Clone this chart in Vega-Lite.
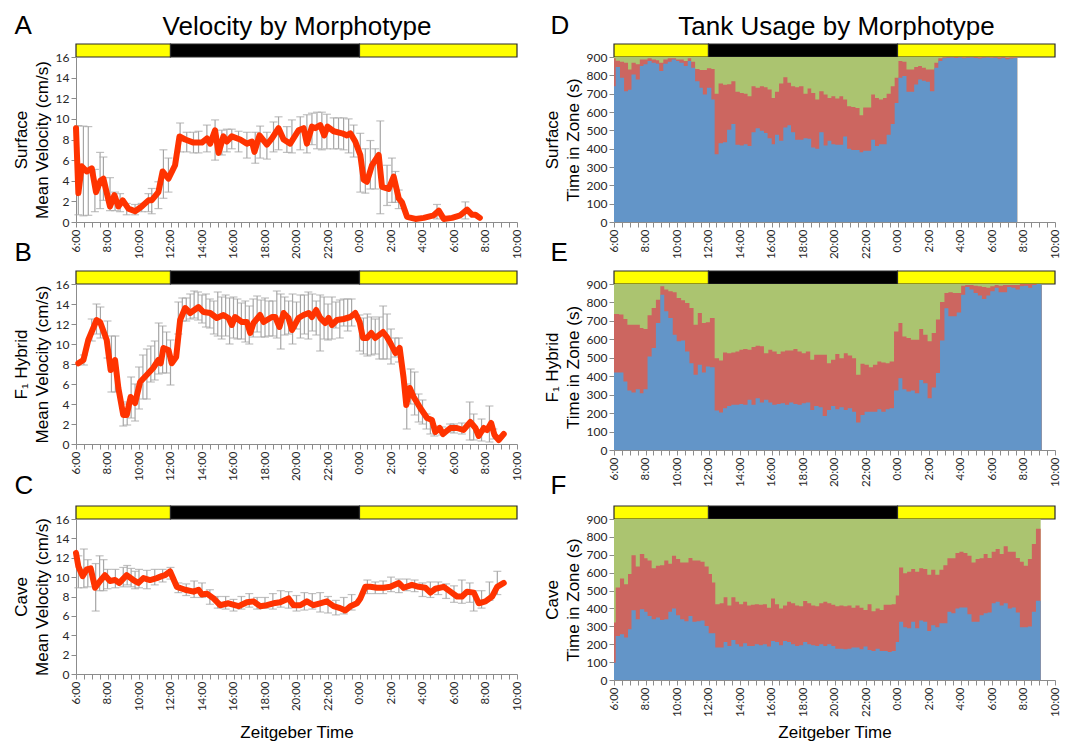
{
"$schema": "https://vega.github.io/schema/vega-lite/v6.json",
"padding": {"left": 12, "top": 12, "right": 5, "bottom": 5},
"background": "white",
"datasets": {
"ld": [{"s":6,"e":12,"p":"light"},{"s":12,"e":24,"p":"dark"},{"s":24,"e":34,"p":"light"}],
"vA": [{"t":6.0,"v":9.1},{"t":6.15,"v":2.8},{"t":6.36,"v":5.4},{"t":6.68,"v":4.9},{"t":7.0,"v":5.2},{"t":7.27,"v":2.9},{"t":7.55,"v":4.0},{"t":7.74,"v":4.2},{"t":8.16,"v":1.5},{"t":8.44,"v":2.6},{"t":8.69,"v":1.5},{"t":8.97,"v":2.1},{"t":9.33,"v":1.3},{"t":9.75,"v":1.05},{"t":10.17,"v":1.5},{"t":10.6,"v":2.1},{"t":10.8,"v":2.1},{"t":11.23,"v":2.9},{"t":11.5,"v":4.9},{"t":11.87,"v":4.2},{"t":12.29,"v":5.5},{"t":12.57,"v":8.3},{"t":12.93,"v":8.0},{"t":13.46,"v":7.7},{"t":13.99,"v":7.7},{"t":14.31,"v":8.1},{"t":14.52,"v":7.6},{"t":14.83,"v":8.9},{"t":15.05,"v":6.7},{"t":15.36,"v":8.3},{"t":15.58,"v":7.8},{"t":15.89,"v":8.3},{"t":16.42,"v":8.0},{"t":16.85,"v":7.6},{"t":17.17,"v":7.8},{"t":17.33,"v":6.8},{"t":17.65,"v":8.4},{"t":18.12,"v":7.5},{"t":18.44,"v":8.1},{"t":18.86,"v":9.1},{"t":19.18,"v":8.0},{"t":19.6,"v":7.6},{"t":20.13,"v":8.9},{"t":20.45,"v":9.1},{"t":20.66,"v":7.6},{"t":20.98,"v":9.25},{"t":21.19,"v":9.1},{"t":21.51,"v":9.4},{"t":21.76,"v":8.4},{"t":21.97,"v":9.25},{"t":22.36,"v":8.8},{"t":22.89,"v":8.6},{"t":23.2,"v":8.4},{"t":23.42,"v":8.6},{"t":23.73,"v":7.8},{"t":24.05,"v":6.5},{"t":24.26,"v":4.1},{"t":24.47,"v":3.9},{"t":24.79,"v":5.5},{"t":25.22,"v":6.5},{"t":25.43,"v":3.4},{"t":25.85,"v":3.2},{"t":26.17,"v":4.4},{"t":26.49,"v":2.3},{"t":26.7,"v":1.9},{"t":27.02,"v":0.5},{"t":27.55,"v":0.3},{"t":28.08,"v":0.4},{"t":28.71,"v":0.65},{"t":29.03,"v":1.1},{"t":29.35,"v":0.3},{"t":29.88,"v":0.4},{"t":30.4,"v":0.65},{"t":30.83,"v":1.2},{"t":31.15,"v":0.7},{"t":31.36,"v":0.7},{"t":31.64,"v":0.4}],
"eA": [{"t":6.15,"lo":0.7,"hi":9.35},{"t":6.47,"lo":0.6,"hi":9.3},{"t":6.78,"lo":0.65,"hi":9.25},{"t":7.2,"lo":1.0,"hi":5.1},{"t":7.53,"lo":1.3,"hi":6.75},{"t":7.74,"lo":2.1,"hi":6.3},{"t":8.16,"lo":1.1,"hi":4.3},{"t":8.48,"lo":1.1,"hi":2.9},{"t":8.8,"lo":1.0,"hi":2.75},{"t":9.22,"lo":0.7,"hi":1.8},{"t":9.75,"lo":0.7,"hi":1.7},{"t":10.17,"lo":1.0,"hi":1.8},{"t":10.6,"lo":1.0,"hi":2.75},{"t":10.81,"lo":0.8,"hi":3.25},{"t":11.23,"lo":1.3,"hi":3.9},{"t":11.55,"lo":2.3,"hi":7.0},{"t":11.87,"lo":2.9,"hi":6.2},{"t":12.61,"lo":6.8,"hi":9.6},{"t":13.03,"lo":6.8,"hi":8.7},{"t":13.46,"lo":6.7,"hi":8.7},{"t":13.78,"lo":6.7,"hi":8.8},{"t":14.31,"lo":6.8,"hi":9.4},{"t":14.83,"lo":6.0,"hi":9.9},{"t":15.26,"lo":6.5,"hi":8.9},{"t":15.58,"lo":6.8,"hi":9.0},{"t":15.89,"lo":7.1,"hi":9.0},{"t":16.32,"lo":6.8,"hi":8.8},{"t":16.85,"lo":6.2,"hi":8.7},{"t":17.38,"lo":5.7,"hi":8.7},{"t":17.69,"lo":6.2,"hi":9.3},{"t":18.12,"lo":6.1,"hi":8.7},{"t":18.54,"lo":6.8,"hi":9.7},{"t":18.86,"lo":7.0,"hi":10.2},{"t":19.39,"lo":6.75,"hi":9.25},{"t":19.71,"lo":6.7,"hi":9.9},{"t":20.24,"lo":7.0,"hi":10.2},{"t":20.66,"lo":6.7,"hi":10.4},{"t":20.98,"lo":7.5,"hi":10.55},{"t":21.3,"lo":7.1,"hi":10.65},{"t":21.61,"lo":7.0,"hi":10.65},{"t":21.93,"lo":7.1,"hi":10.45},{"t":22.36,"lo":7.1,"hi":10.1},{"t":22.67,"lo":7.1,"hi":10.1},{"t":22.99,"lo":7.0,"hi":10.1},{"t":23.31,"lo":6.7,"hi":10.0},{"t":23.63,"lo":6.3,"hi":9.4},{"t":24.05,"lo":2.9,"hi":8.6},{"t":24.37,"lo":2.8,"hi":7.1},{"t":24.69,"lo":3.2,"hi":7.9},{"t":25.0,"lo":3.2,"hi":7.1},{"t":25.32,"lo":0.8,"hi":9.8},{"t":25.75,"lo":1.6,"hi":5.5},{"t":26.06,"lo":1.9,"hi":6.2},{"t":26.28,"lo":1.9,"hi":4.9},{"t":26.49,"lo":1.3,"hi":3.1},{"t":28.92,"lo":0.3,"hi":1.7},{"t":30.72,"lo":0.3,"hi":1.95}],
"vB": [{"t":6.15,"v":8.07},{"t":6.47,"v":8.4},{"t":6.78,"v":10.4},{"t":7.31,"v":12.4},{"t":7.53,"v":12.2},{"t":7.95,"v":10.4},{"t":8.2,"v":7.4},{"t":8.48,"v":8.4},{"t":8.69,"v":5.6},{"t":9.0,"v":2.9},{"t":9.22,"v":2.9},{"t":9.47,"v":4.7},{"t":9.75,"v":4.1},{"t":10.07,"v":6.2},{"t":10.49,"v":6.9},{"t":10.9,"v":7.6},{"t":11.23,"v":8.4},{"t":11.38,"v":8.07},{"t":11.55,"v":9.6},{"t":11.87,"v":9.4},{"t":12.08,"v":8.07},{"t":12.36,"v":8.7},{"t":12.61,"v":12.4},{"t":12.93,"v":13.6},{"t":13.25,"v":13.1},{"t":13.78,"v":13.7},{"t":14.09,"v":13.2},{"t":14.52,"v":13.1},{"t":14.94,"v":12.6},{"t":15.36,"v":12.9},{"t":15.68,"v":12.6},{"t":15.89,"v":11.9},{"t":16.1,"v":12.7},{"t":16.53,"v":12.2},{"t":16.85,"v":12.2},{"t":17.06,"v":11.1},{"t":17.27,"v":12.1},{"t":17.69,"v":12.9},{"t":17.91,"v":12.2},{"t":18.44,"v":12.7},{"t":18.65,"v":12.7},{"t":18.92,"v":11.7},{"t":19.18,"v":13.1},{"t":19.49,"v":12.6},{"t":19.71,"v":11.4},{"t":20.13,"v":12.6},{"t":20.45,"v":12.9},{"t":20.77,"v":13.1},{"t":20.98,"v":12.7},{"t":21.25,"v":13.4},{"t":21.51,"v":12.6},{"t":21.83,"v":12.1},{"t":22.04,"v":12.6},{"t":22.25,"v":11.9},{"t":22.57,"v":12.4},{"t":22.99,"v":12.5},{"t":23.42,"v":12.7},{"t":23.73,"v":13.1},{"t":24.01,"v":12.2},{"t":24.22,"v":10.6},{"t":24.47,"v":10.6},{"t":24.75,"v":11.1},{"t":25.0,"v":10.6},{"t":25.49,"v":11.2},{"t":25.74,"v":10.7},{"t":25.96,"v":10.1},{"t":26.28,"v":9.1},{"t":26.55,"v":9.6},{"t":26.8,"v":6.6},{"t":26.97,"v":3.9},{"t":27.19,"v":5.6},{"t":27.44,"v":4.7},{"t":27.86,"v":3.6},{"t":28.29,"v":2.6},{"t":28.6,"v":2.4},{"t":28.81,"v":1.2},{"t":29.09,"v":1.6},{"t":29.3,"v":1.0},{"t":29.77,"v":1.6},{"t":30.19,"v":1.6},{"t":30.6,"v":1.4},{"t":31.04,"v":2.2},{"t":31.36,"v":1.6},{"t":31.57,"v":0.8},{"t":31.89,"v":1.6},{"t":32.1,"v":1.4},{"t":32.36,"v":2.1},{"t":32.57,"v":0.9},{"t":32.84,"v":0.4},{"t":33.16,"v":1.0}],
"eB": [{"t":6.5,"lo":7.9,"hi":8.9},{"t":7.0,"lo":10.3,"hi":12.5},{"t":7.3,"lo":11.0,"hi":14.0},{"t":7.55,"lo":10.6,"hi":13.7},{"t":8.0,"lo":8.6,"hi":12.3},{"t":8.25,"lo":5.2,"hi":10.8},{"t":8.5,"lo":5.2,"hi":10.8},{"t":9.0,"lo":1.8,"hi":4.0},{"t":9.25,"lo":1.9,"hi":4.2},{"t":9.5,"lo":2.6,"hi":6.7},{"t":9.75,"lo":2.3,"hi":6.0},{"t":10.0,"lo":3.5,"hi":7.7},{"t":10.25,"lo":4.5,"hi":8.9},{"t":10.5,"lo":4.5,"hi":9.5},{"t":10.75,"lo":6.2,"hi":9.8},{"t":11.0,"lo":6.4,"hi":10.3},{"t":11.25,"lo":7.0,"hi":12.1},{"t":11.5,"lo":7.1,"hi":11.8},{"t":11.75,"lo":7.1,"hi":11.2},{"t":12.0,"lo":5.9,"hi":10.4},{"t":12.5,"lo":11.0,"hi":14.2},{"t":12.75,"lo":12.3,"hi":14.6},{"t":13.0,"lo":12.3,"hi":14.6},{"t":13.25,"lo":12.5,"hi":15.0},{"t":13.5,"lo":12.6,"hi":15.3},{"t":13.75,"lo":12.4,"hi":15.2},{"t":14.0,"lo":12.1,"hi":14.9},{"t":14.25,"lo":11.7,"hi":15.0},{"t":14.5,"lo":11.6,"hi":14.5},{"t":14.75,"lo":11.0,"hi":14.3},{"t":15.0,"lo":10.8,"hi":15.2},{"t":15.25,"lo":10.5,"hi":14.7},{"t":15.5,"lo":10.8,"hi":14.9},{"t":15.75,"lo":10.0,"hi":14.6},{"t":16.0,"lo":10.6,"hi":14.7},{"t":16.25,"lo":10.5,"hi":14.5},{"t":16.5,"lo":10.5,"hi":14.1},{"t":16.75,"lo":10.2,"hi":14.3},{"t":17.0,"lo":10.0,"hi":13.8},{"t":17.25,"lo":10.7,"hi":14.5},{"t":17.5,"lo":11.2,"hi":14.8},{"t":17.75,"lo":10.7,"hi":14.4},{"t":18.0,"lo":10.7,"hi":14.6},{"t":18.25,"lo":10.8,"hi":14.3},{"t":18.5,"lo":10.8,"hi":14.3},{"t":18.75,"lo":10.6,"hi":15.3},{"t":19.0,"lo":9.5,"hi":15.0},{"t":19.25,"lo":10.9,"hi":14.7},{"t":19.5,"lo":11.0,"hi":14.3},{"t":19.75,"lo":10.0,"hi":15.0},{"t":20.0,"lo":11.5,"hi":14.2},{"t":20.25,"lo":10.6,"hi":14.9},{"t":20.5,"lo":11.0,"hi":14.9},{"t":20.75,"lo":10.5,"hi":15.2},{"t":21.0,"lo":11.3,"hi":15.0},{"t":21.25,"lo":10.9,"hi":14.3},{"t":21.5,"lo":9.3,"hi":14.9},{"t":21.75,"lo":10.5,"hi":14.7},{"t":22.0,"lo":10.4,"hi":14.0},{"t":22.25,"lo":10.5,"hi":14.7},{"t":22.5,"lo":11.6,"hi":14.2},{"t":22.75,"lo":10.6,"hi":14.4},{"t":23.0,"lo":11.8,"hi":14.5},{"t":23.25,"lo":11.3,"hi":14.5},{"t":23.5,"lo":11.8,"hi":14.5},{"t":24.0,"lo":9.3,"hi":12.9},{"t":24.25,"lo":9.0,"hi":12.6},{"t":24.5,"lo":8.8,"hi":13.0},{"t":24.75,"lo":8.9,"hi":12.7},{"t":25.0,"lo":9.0,"hi":12.5},{"t":25.25,"lo":8.5,"hi":12.7},{"t":25.5,"lo":8.5,"hi":13.8},{"t":25.75,"lo":8.5,"hi":13.0},{"t":26.0,"lo":8.0,"hi":11.5},{"t":26.25,"lo":8.7,"hi":10.6},{"t":26.5,"lo":8.2,"hi":10.6},{"t":27.0,"lo":1.5,"hi":6.0},{"t":27.25,"lo":4.0,"hi":7.5},{"t":27.5,"lo":2.9,"hi":7.2},{"t":27.75,"lo":2.2,"hi":5.0},{"t":28.0,"lo":2.0,"hi":4.4},{"t":28.25,"lo":1.5,"hi":3.0},{"t":28.5,"lo":1.0,"hi":2.4},{"t":28.75,"lo":0.8,"hi":1.8},{"t":29.25,"lo":0.9,"hi":1.7},{"t":29.75,"lo":1.2,"hi":2.0},{"t":30.0,"lo":1.1,"hi":2.0},{"t":30.5,"lo":1.0,"hi":2.1},{"t":31.0,"lo":0.4,"hi":4.2},{"t":31.25,"lo":0.4,"hi":3.0},{"t":31.75,"lo":0.3,"hi":2.5},{"t":32.25,"lo":0.2,"hi":3.8},{"t":32.5,"lo":0.5,"hi":1.5}],
"vC": [{"t":6.0,"v":12.5},{"t":6.15,"v":11.1},{"t":6.42,"v":10.1},{"t":6.68,"v":10.8},{"t":6.93,"v":10.9},{"t":7.21,"v":8.9},{"t":7.53,"v":9.6},{"t":7.84,"v":10.2},{"t":8.16,"v":9.6},{"t":8.48,"v":9.7},{"t":8.75,"v":9.4},{"t":9.22,"v":10.2},{"t":9.64,"v":9.7},{"t":9.96,"v":9.4},{"t":10.28,"v":9.9},{"t":10.7,"v":9.7},{"t":11.13,"v":9.9},{"t":11.44,"v":10.1},{"t":11.66,"v":10.2},{"t":11.97,"v":10.6},{"t":12.4,"v":9.0},{"t":12.93,"v":8.7},{"t":13.46,"v":8.5},{"t":13.78,"v":8.7},{"t":13.99,"v":8.2},{"t":14.31,"v":8.3},{"t":14.73,"v":7.8},{"t":15.15,"v":7.1},{"t":15.68,"v":7.3},{"t":16.32,"v":7.0},{"t":16.85,"v":7.4},{"t":17.27,"v":7.5},{"t":17.69,"v":7.0},{"t":18.12,"v":7.1},{"t":18.54,"v":7.3},{"t":18.96,"v":7.4},{"t":19.5,"v":7.8},{"t":19.81,"v":7.1},{"t":20.24,"v":7.1},{"t":20.66,"v":7.5},{"t":21.08,"v":7.1},{"t":21.5,"v":7.3},{"t":21.93,"v":7.5},{"t":22.35,"v":7.0},{"t":22.77,"v":6.8},{"t":23.1,"v":6.55},{"t":23.42,"v":7.0},{"t":23.84,"v":7.3},{"t":24.05,"v":7.8},{"t":24.37,"v":9.0},{"t":24.69,"v":9.0},{"t":25.11,"v":8.9},{"t":25.53,"v":8.9},{"t":25.96,"v":9.0},{"t":26.49,"v":9.4},{"t":26.8,"v":8.9},{"t":27.33,"v":9.2},{"t":27.76,"v":9.0},{"t":28.18,"v":8.9},{"t":28.5,"v":8.4},{"t":28.82,"v":8.8},{"t":29.35,"v":9.0},{"t":29.77,"v":8.5},{"t":30.19,"v":8.0},{"t":30.51,"v":8.0},{"t":30.83,"v":8.5},{"t":31.26,"v":8.4},{"t":31.57,"v":7.3},{"t":32.0,"v":7.5},{"t":32.42,"v":8.0},{"t":32.74,"v":9.0},{"t":33.16,"v":9.4}],
"eC": [{"t":6.15,"lo":8.9,"hi":12.2},{"t":6.5,"lo":8.9,"hi":12.9},{"t":6.75,"lo":9.0,"hi":11.8},{"t":7.25,"lo":6.5,"hi":11.4},{"t":7.5,"lo":8.6,"hi":12.2},{"t":7.75,"lo":8.6,"hi":11.8},{"t":8.0,"lo":8.8,"hi":10.8},{"t":8.5,"lo":8.9,"hi":10.8},{"t":9.0,"lo":9.0,"hi":11.0},{"t":9.25,"lo":9.2,"hi":11.2},{"t":9.5,"lo":9.0,"hi":10.9},{"t":9.75,"lo":8.8,"hi":10.6},{"t":10.0,"lo":8.9,"hi":10.8},{"t":10.5,"lo":8.8,"hi":10.7},{"t":11.0,"lo":9.2,"hi":10.8},{"t":11.5,"lo":9.5,"hi":10.8},{"t":12.0,"lo":9.8,"hi":11.0},{"t":12.5,"lo":8.4,"hi":9.4},{"t":13.0,"lo":8.1,"hi":9.3},{"t":13.5,"lo":7.9,"hi":9.6},{"t":14.0,"lo":7.9,"hi":9.4},{"t":14.5,"lo":7.2,"hi":8.7},{"t":15.0,"lo":6.8,"hi":8.0},{"t":15.5,"lo":6.7,"hi":8.0},{"t":16.0,"lo":6.5,"hi":7.7},{"t":16.5,"lo":6.7,"hi":8.0},{"t":17.0,"lo":6.9,"hi":8.3},{"t":17.5,"lo":6.7,"hi":7.9},{"t":18.0,"lo":6.8,"hi":7.9},{"t":18.5,"lo":6.7,"hi":8.3},{"t":19.0,"lo":6.9,"hi":8.6},{"t":19.5,"lo":6.8,"hi":8.5},{"t":20.0,"lo":6.5,"hi":8.1},{"t":20.5,"lo":6.6,"hi":8.4},{"t":21.0,"lo":6.7,"hi":8.3},{"t":21.5,"lo":6.4,"hi":8.4},{"t":22.0,"lo":6.3,"hi":8.0},{"t":22.5,"lo":6.1,"hi":7.6},{"t":23.0,"lo":6.2,"hi":7.9},{"t":23.5,"lo":6.6,"hi":8.2},{"t":24.5,"lo":8.3,"hi":9.7},{"t":25.0,"lo":8.3,"hi":9.5},{"t":25.5,"lo":8.3,"hi":9.6},{"t":26.0,"lo":8.5,"hi":10.0},{"t":26.5,"lo":8.4,"hi":9.8},{"t":27.0,"lo":8.6,"hi":9.8},{"t":27.5,"lo":8.5,"hi":9.7},{"t":28.0,"lo":8.0,"hi":9.4},{"t":28.5,"lo":7.9,"hi":9.5},{"t":29.0,"lo":8.2,"hi":9.5},{"t":29.5,"lo":7.8,"hi":9.3},{"t":30.0,"lo":7.4,"hi":9.1},{"t":30.5,"lo":7.3,"hi":9.7},{"t":31.0,"lo":7.4,"hi":9.4},{"t":31.25,"lo":6.5,"hi":8.6},{"t":31.75,"lo":6.8,"hi":8.6},{"t":32.25,"lo":7.6,"hi":9.5},{"t":32.75,"lo":8.2,"hi":10.6}],
"tD": [{"t":6.0,"b":741,"m":893},{"t":6.11,"b":845,"m":880},{"t":6.38,"b":787,"m":874},{"t":6.64,"b":713,"m":869},{"t":6.89,"b":722,"m":832},{"t":7.11,"b":805,"m":869},{"t":7.38,"b":777,"m":860},{"t":7.64,"b":851,"m":887},{"t":7.87,"b":860,"m":887},{"t":8.13,"b":878,"m":893},{"t":8.39,"b":869,"m":887},{"t":8.66,"b":863,"m":882},{"t":8.87,"b":823,"m":869},{"t":9.13,"b":863,"m":887},{"t":9.41,"b":874,"m":893},{"t":9.66,"b":887,"m":893},{"t":9.94,"b":878,"m":887},{"t":10.15,"b":869,"m":887},{"t":10.43,"b":851,"m":878},{"t":10.68,"b":878,"m":893},{"t":10.9,"b":841,"m":874},{"t":11.15,"b":768,"m":834},{"t":11.43,"b":732,"m":829},{"t":11.64,"b":695,"m":829},{"t":11.9,"b":732,"m":838},{"t":12.18,"b":668,"m":834},{"t":12.39,"b":369,"m":699},{"t":12.64,"b":430,"m":755},{"t":12.92,"b":435,"m":748},{"t":13.18,"b":503,"m":752},{"t":13.45,"b":534,"m":768},{"t":13.71,"b":421,"m":710},{"t":13.99,"b":417,"m":704},{"t":14.24,"b":424,"m":699},{"t":14.48,"b":415,"m":686},{"t":14.73,"b":490,"m":741},{"t":14.99,"b":512,"m":732},{"t":15.26,"b":498,"m":741},{"t":15.52,"b":485,"m":735},{"t":15.75,"b":457,"m":723},{"t":16.01,"b":424,"m":677},{"t":16.22,"b":476,"m":710},{"t":16.48,"b":443,"m":755},{"t":16.75,"b":516,"m":790},{"t":17.01,"b":528,"m":759},{"t":17.24,"b":490,"m":741},{"t":17.5,"b":448,"m":735},{"t":17.75,"b":448,"m":741},{"t":18.03,"b":457,"m":699},{"t":18.29,"b":454,"m":728},{"t":18.52,"b":406,"m":704},{"t":18.78,"b":399,"m":668},{"t":19.03,"b":490,"m":713},{"t":19.31,"b":417,"m":695},{"t":19.56,"b":443,"m":677},{"t":19.8,"b":424,"m":686},{"t":20.05,"b":421,"m":673},{"t":20.31,"b":421,"m":686},{"t":20.55,"b":466,"m":668},{"t":20.8,"b":399,"m":631},{"t":21.06,"b":393,"m":627},{"t":21.33,"b":393,"m":622},{"t":21.59,"b":380,"m":582},{"t":21.82,"b":388,"m":625},{"t":22.08,"b":388,"m":625},{"t":22.33,"b":448,"m":695},{"t":22.57,"b":415,"m":677},{"t":22.82,"b":424,"m":668},{"t":23.08,"b":424,"m":677},{"t":23.31,"b":476,"m":699},{"t":23.57,"b":534,"m":741},{"t":23.82,"b":649,"m":787},{"t":24.06,"b":787,"m":878},{"t":24.31,"b":796,"m":874},{"t":24.57,"b":710,"m":832},{"t":24.8,"b":710,"m":832},{"t":25.06,"b":750,"m":845},{"t":25.31,"b":777,"m":851},{"t":25.55,"b":771,"m":841},{"t":25.8,"b":765,"m":832},{"t":26.06,"b":713,"m":832},{"t":26.34,"b":841,"m":869},{"t":26.59,"b":878,"m":893},{"t":26.85,"b":893,"m":898},{"t":27.1,"b":896,"m":900},{"t":27.35,"b":897,"m":900},{"t":27.6,"b":895,"m":900},{"t":27.85,"b":897,"m":900},{"t":28.1,"b":893,"m":899},{"t":28.35,"b":896,"m":900},{"t":28.6,"b":897,"m":900},{"t":28.85,"b":895,"m":900},{"t":29.1,"b":892,"m":898},{"t":29.35,"b":896,"m":900},{"t":29.6,"b":897,"m":900},{"t":29.85,"b":894,"m":898},{"t":30.1,"b":896,"m":900},{"t":30.35,"b":890,"m":898},{"t":30.6,"b":895,"m":900},{"t":30.85,"b":888,"m":897},{"t":31.1,"b":892,"m":898},{"t":31.35,"b":894,"m":898},{"t":31.6,"b":894,"m":898}],
"tE": [{"t":6.0,"b":420,"m":737},{"t":6.32,"b":420,"m":734},{"t":6.6,"b":371,"m":710},{"t":6.85,"b":322,"m":679},{"t":7.11,"b":312,"m":679},{"t":7.38,"b":330,"m":679},{"t":7.64,"b":308,"m":661},{"t":7.87,"b":330,"m":656},{"t":8.13,"b":507,"m":730},{"t":8.39,"b":553,"m":770},{"t":8.66,"b":688,"m":815},{"t":8.94,"b":842,"m":888},{"t":9.19,"b":752,"m":870},{"t":9.45,"b":716,"m":861},{"t":9.73,"b":625,"m":855},{"t":9.98,"b":589,"m":824},{"t":10.26,"b":594,"m":812},{"t":10.51,"b":534,"m":797},{"t":10.79,"b":471,"m":770},{"t":11.05,"b":408,"m":679},{"t":11.32,"b":462,"m":743},{"t":11.58,"b":420,"m":688},{"t":11.83,"b":453,"m":692},{"t":12.09,"b":449,"m":716},{"t":12.39,"b":214,"m":498},{"t":12.67,"b":203,"m":485},{"t":12.92,"b":226,"m":529},{"t":13.18,"b":239,"m":525},{"t":13.45,"b":245,"m":529},{"t":13.71,"b":245,"m":534},{"t":13.96,"b":250,"m":543},{"t":14.2,"b":245,"m":547},{"t":14.48,"b":272,"m":543},{"t":14.73,"b":245,"m":558},{"t":14.99,"b":281,"m":565},{"t":15.26,"b":257,"m":562},{"t":15.52,"b":272,"m":525},{"t":15.8,"b":257,"m":543},{"t":16.05,"b":245,"m":534},{"t":16.33,"b":250,"m":521},{"t":16.58,"b":254,"m":534},{"t":16.86,"b":245,"m":539},{"t":17.12,"b":257,"m":539},{"t":17.39,"b":250,"m":547},{"t":17.65,"b":245,"m":534},{"t":17.92,"b":254,"m":525},{"t":18.18,"b":257,"m":534},{"t":18.46,"b":217,"m":489},{"t":18.71,"b":239,"m":516},{"t":18.99,"b":232,"m":516},{"t":19.25,"b":185,"m":516},{"t":19.52,"b":217,"m":471},{"t":19.78,"b":239,"m":489},{"t":20.05,"b":221,"m":521},{"t":20.31,"b":232,"m":498},{"t":20.59,"b":217,"m":525},{"t":20.84,"b":226,"m":512},{"t":21.12,"b":208,"m":498},{"t":21.37,"b":149,"m":408},{"t":21.65,"b":190,"m":467},{"t":21.91,"b":208,"m":462},{"t":22.18,"b":208,"m":449},{"t":22.44,"b":208,"m":462},{"t":22.72,"b":221,"m":480},{"t":22.97,"b":208,"m":475},{"t":23.25,"b":221,"m":471},{"t":23.5,"b":226,"m":480},{"t":23.78,"b":322,"m":643},{"t":24.06,"b":389,"m":688},{"t":24.31,"b":330,"m":616},{"t":24.57,"b":317,"m":607},{"t":24.85,"b":322,"m":598},{"t":25.1,"b":308,"m":598},{"t":25.38,"b":380,"m":656},{"t":25.63,"b":362,"m":625},{"t":25.91,"b":281,"m":589},{"t":26.17,"b":339,"m":634},{"t":26.44,"b":417,"m":707},{"t":26.7,"b":594,"m":803},{"t":26.98,"b":768,"m":851},{"t":27.23,"b":725,"m":855},{"t":27.51,"b":725,"m":851},{"t":27.76,"b":746,"m":851},{"t":28.04,"b":842,"m":891},{"t":28.3,"b":884,"m":895},{"t":28.57,"b":870,"m":895},{"t":28.83,"b":851,"m":891},{"t":29.1,"b":837,"m":888},{"t":29.36,"b":819,"m":884},{"t":29.64,"b":837,"m":879},{"t":29.89,"b":861,"m":888},{"t":30.17,"b":879,"m":895},{"t":30.42,"b":855,"m":891},{"t":30.7,"b":855,"m":895},{"t":30.96,"b":884,"m":895},{"t":31.23,"b":879,"m":895},{"t":31.49,"b":870,"m":895},{"t":31.77,"b":888,"m":900},{"t":32.02,"b":891,"m":900},{"t":32.3,"b":879,"m":900},{"t":32.55,"b":895,"m":900},{"t":32.83,"b":900,"m":900},{"t":33.15,"b":900,"m":900}],
"tF": [{"t":6.0,"b":97,"m":321},{"t":6.11,"b":246,"m":517},{"t":6.38,"b":256,"m":568},{"t":6.64,"b":237,"m":535},{"t":6.89,"b":284,"m":592},{"t":7.11,"b":390,"m":698},{"t":7.38,"b":340,"m":635},{"t":7.64,"b":396,"m":704},{"t":7.92,"b":381,"m":680},{"t":8.13,"b":358,"m":668},{"t":8.39,"b":340,"m":624},{"t":8.66,"b":349,"m":639},{"t":8.92,"b":336,"m":642},{"t":9.19,"b":340,"m":668},{"t":9.45,"b":381,"m":650},{"t":9.68,"b":400,"m":695},{"t":9.94,"b":362,"m":676},{"t":10.2,"b":340,"m":657},{"t":10.47,"b":329,"m":657},{"t":10.73,"b":358,"m":682},{"t":10.98,"b":325,"m":668},{"t":11.24,"b":329,"m":668},{"t":11.49,"b":332,"m":661},{"t":11.75,"b":302,"m":635},{"t":12.01,"b":261,"m":592},{"t":12.22,"b":261,"m":545},{"t":12.43,"b":181,"m":424},{"t":12.71,"b":181,"m":429},{"t":12.96,"b":213,"m":462},{"t":13.2,"b":190,"m":416},{"t":13.45,"b":224,"m":463},{"t":13.71,"b":200,"m":438},{"t":13.94,"b":187,"m":424},{"t":14.2,"b":205,"m":438},{"t":14.45,"b":190,"m":416},{"t":14.69,"b":190,"m":420},{"t":14.94,"b":200,"m":424},{"t":15.2,"b":194,"m":420},{"t":15.45,"b":200,"m":424},{"t":15.71,"b":187,"m":404},{"t":15.97,"b":218,"m":456},{"t":16.22,"b":213,"m":424},{"t":16.48,"b":194,"m":400},{"t":16.73,"b":218,"m":416},{"t":16.99,"b":213,"m":438},{"t":17.24,"b":200,"m":429},{"t":17.5,"b":190,"m":416},{"t":17.75,"b":194,"m":412},{"t":18.01,"b":213,"m":442},{"t":18.27,"b":200,"m":429},{"t":18.52,"b":194,"m":416},{"t":18.78,"b":190,"m":412},{"t":19.03,"b":200,"m":429},{"t":19.29,"b":190,"m":438},{"t":19.54,"b":200,"m":429},{"t":19.8,"b":190,"m":420},{"t":20.05,"b":175,"m":412},{"t":20.31,"b":175,"m":416},{"t":20.57,"b":172,"m":412},{"t":20.82,"b":175,"m":416},{"t":21.08,"b":181,"m":404},{"t":21.33,"b":181,"m":416},{"t":21.59,"b":172,"m":404},{"t":21.84,"b":187,"m":392},{"t":22.1,"b":168,"m":424},{"t":22.35,"b":162,"m":385},{"t":22.61,"b":175,"m":400},{"t":22.87,"b":162,"m":392},{"t":23.12,"b":162,"m":420},{"t":23.38,"b":157,"m":420},{"t":23.63,"b":162,"m":424},{"t":23.89,"b":213,"m":472},{"t":24.1,"b":325,"m":629},{"t":24.36,"b":295,"m":597},{"t":24.61,"b":289,"m":605},{"t":24.87,"b":325,"m":620},{"t":25.12,"b":289,"m":605},{"t":25.38,"b":332,"m":624},{"t":25.63,"b":325,"m":620},{"t":25.89,"b":274,"m":588},{"t":26.14,"b":306,"m":616},{"t":26.4,"b":295,"m":588},{"t":26.66,"b":317,"m":616},{"t":26.91,"b":317,"m":642},{"t":27.17,"b":381,"m":680},{"t":27.42,"b":373,"m":680},{"t":27.68,"b":400,"m":710},{"t":27.93,"b":405,"m":717},{"t":28.19,"b":405,"m":710},{"t":28.44,"b":368,"m":695},{"t":28.7,"b":325,"m":657},{"t":28.96,"b":325,"m":676},{"t":29.21,"b":362,"m":680},{"t":29.47,"b":373,"m":704},{"t":29.72,"b":377,"m":682},{"t":29.98,"b":429,"m":717},{"t":30.23,"b":438,"m":732},{"t":30.49,"b":416,"m":704},{"t":30.74,"b":429,"m":747},{"t":31.0,"b":400,"m":717},{"t":31.26,"b":405,"m":717},{"t":31.51,"b":377,"m":682},{"t":31.77,"b":295,"m":661},{"t":32.02,"b":295,"m":639},{"t":32.28,"b":299,"m":676},{"t":32.53,"b":381,"m":760},{"t":32.79,"b":443,"m":845},{"t":33.09,"b":443,"m":845}]
},
"bounds": "flush",
"columns": 2,
"spacing": {"row": 0, "column": 97},
"concat": [
   {"width": 441, "height": 13, "data": {"name": "ld"},
    "mark": {"type": "rect", "stroke": "#2b2b2b", "strokeWidth": 1.2},
    "encoding": {
     "x": {"field": "s", "type": "quantitative", "scale": {"domain": [6, 34], "nice": false, "zero": false}, "axis": {"orient": "top", "domain": false, "ticks": false, "labels": false, "grid": false, "title": "Velocity by Morphotype", "titleX": 220.5, "titleY": -10, "titleAlign": "center", "titleBaseline": "alphabetic", "titleFontSize": 26, "titleAngle": 0}},
     "x2": {"field": "e"},
     "y": {"datum": 0, "type": "quantitative", "scale": {"domain": [0, 1], "nice": false}, "axis": {"domain": false, "ticks": false, "labels": false, "grid": false, "title": "A", "titleAngle": 0, "titleX": -62, "titleY": -11, "titleAlign": "left", "titleBaseline": "alphabetic", "titleFontSize": 26}},
     "y2": {"datum": 1},
     "color": {"field": "p", "type": "nominal", "scale": {"domain": ["light", "dark"], "range": ["#ffff00", "#000000"]}, "legend": null}}},
   {"width": 441, "height": 13, "data": {"name": "ld"},
    "mark": {"type": "rect", "stroke": "#2b2b2b", "strokeWidth": 1.2},
    "encoding": {
     "x": {"field": "s", "type": "quantitative", "scale": {"domain": [6, 34], "nice": false, "zero": false}, "axis": {"orient": "top", "domain": false, "ticks": false, "labels": false, "grid": false, "title": "Tank Usage by Morphotype", "titleX": 222, "titleY": -10, "titleAlign": "center", "titleBaseline": "alphabetic", "titleFontSize": 26, "titleAngle": 0}},
     "x2": {"field": "e"},
     "y": {"datum": 0, "type": "quantitative", "scale": {"domain": [0, 1], "nice": false}, "axis": {"domain": false, "ticks": false, "labels": false, "grid": false, "title": "D", "titleAngle": 0, "titleX": -64, "titleY": -11, "titleAlign": "left", "titleBaseline": "alphabetic", "titleFontSize": 26}},
     "y2": {"datum": 1},
     "color": {"field": "p", "type": "nominal", "scale": {"domain": ["light", "dark"], "range": ["#ffff00", "#000000"]}, "legend": null}}},
   {"width": 441, "height": 165,
    "encoding": {"x": {"field": "t", "type": "quantitative", "scale": {"domain": [6, 34], "nice": false, "zero": false}, "axis": {"values": [6,6.5,7,7.5,8,8.5,9,9.5,10,10.5,11,11.5,12,12.5,13,13.5,14,14.5,15,15.5,16,16.5,17,17.5,18,18.5,19,19.5,20,20.5,21,21.5,22,22.5,23,23.5,24,24.5,25,25.5,26,26.5,27,27.5,28,28.5,29,29.5,30,30.5,31,31.5,32,32.5,33,33.5,34], "labelExpr": "datum.value % 2 == 0 ? (datum.value % 24) + ':00' : ''", "labelOverlap": false, "labelBound": false, "labelFlush": false, "title": null}}},
    "layer": [
     {"data": {"name": "eA"}, "mark": {"type": "rule", "color": "#a6a6a6", "strokeWidth": 1.2},
      "encoding": {"y": {"field": "lo", "type": "quantitative", "scale": {"domain": [0, 16], "nice": false}, "axis": {"values": [0,2,4,6,8,10,12,14,16], "tickCount": 30, "format": "d", "labelOverlap": false, "title": ["Surface", "Mean Velocity (cm/s)"], "titlePadding": 4}}, "y2": {"field": "hi"}}},
     {"data": {"name": "eA"}, "mark": {"type": "tick", "orient": "horizontal", "color": "#a6a6a6", "size": 8, "thickness": 1.2},
      "encoding": {"y": {"field": "lo", "type": "quantitative"}}},
     {"data": {"name": "eA"}, "mark": {"type": "tick", "orient": "horizontal", "color": "#a6a6a6", "size": 8, "thickness": 1.2},
      "encoding": {"y": {"field": "hi", "type": "quantitative"}}},
     {"data": {"name": "vA"}, "mark": {"type": "line", "color": "#ff3300", "strokeWidth": 6, "strokeCap": "round", "strokeJoin": "round"},
      "encoding": {"y": {"field": "v", "type": "quantitative"}}}
    ]},
   {"width": 441, "height": 165, "data": {"name": "tD"},
    "encoding": {"x": {"field": "t", "type": "quantitative", "scale": {"domain": [6, 34], "nice": false, "zero": false}, "axis": {"values": [6,6.5,7,7.5,8,8.5,9,9.5,10,10.5,11,11.5,12,12.5,13,13.5,14,14.5,15,15.5,16,16.5,17,17.5,18,18.5,19,19.5,20,20.5,21,21.5,22,22.5,23,23.5,24,24.5,25,25.5,26,26.5,27,27.5,28,28.5,29,29.5,30,30.5,31,31.5,32,32.5,33,33.5,34], "labelExpr": "datum.value % 2 == 0 ? (datum.value % 24) + ':00' : ''", "labelOverlap": false, "labelBound": false, "labelFlush": false, "title": null}}},
    "layer": [
     {"mark": {"type": "area", "interpolate": "step-after", "color": "#abc470"},
      "encoding": {"y": {"datum": 900, "type": "quantitative", "stack": null, "scale": {"domain": [0, 900], "nice": false}, "axis": {"values": [0,100,200,300,400,500,600,700,800,900], "tickCount": 30, "format": "d", "labelOverlap": false, "title": ["Surface", "Time in Zone (s)"], "titlePadding": 4}}}},
     {"mark": {"type": "area", "interpolate": "step-after", "color": "#cc6660"},
      "encoding": {"y": {"field": "m", "type": "quantitative", "stack": null}}},
     {"mark": {"type": "area", "interpolate": "step-after", "color": "#6395c8"},
      "encoding": {"y": {"field": "b", "type": "quantitative", "stack": null}}}
    ]},
   {"width": 441, "height": 62, "data": {"name": "ld"},
    "mark": {"type": "rect", "stroke": "#2b2b2b", "strokeWidth": 1.2},
    "encoding": {
     "x": {"field": "s", "type": "quantitative", "scale": {"domain": [6, 34], "nice": false, "zero": false}, "axis": null},
     "x2": {"field": "e"},
     "y": {"datum": 0, "type": "quantitative", "scale": {"domain": [0, 4.769], "nice": false}, "axis": {"domain": false, "ticks": false, "labels": false, "grid": false, "title": "B", "titleAngle": 0, "titleX": -62, "titleY": 38, "titleAlign": "left", "titleBaseline": "alphabetic", "titleFontSize": 26}},
     "y2": {"datum": 1},
     "color": {"field": "p", "type": "nominal", "scale": {"domain": ["light", "dark"], "range": ["#ffff00", "#000000"]}, "legend": null}}},
   {"width": 441, "height": 62, "data": {"name": "ld"},
    "mark": {"type": "rect", "stroke": "#2b2b2b", "strokeWidth": 1.2},
    "encoding": {
     "x": {"field": "s", "type": "quantitative", "scale": {"domain": [6, 34], "nice": false, "zero": false}, "axis": null},
     "x2": {"field": "e"},
     "y": {"datum": 0, "type": "quantitative", "scale": {"domain": [0, 4.769], "nice": false}, "axis": {"domain": false, "ticks": false, "labels": false, "grid": false, "title": "E", "titleAngle": 0, "titleX": -64, "titleY": 38, "titleAlign": "left", "titleBaseline": "alphabetic", "titleFontSize": 26}},
     "y2": {"datum": 1},
     "color": {"field": "p", "type": "nominal", "scale": {"domain": ["light", "dark"], "range": ["#ffff00", "#000000"]}, "legend": null}}},
   {"width": 441, "height": 160,
    "encoding": {"x": {"field": "t", "type": "quantitative", "scale": {"domain": [6, 34], "nice": false, "zero": false}, "axis": {"values": [6,6.5,7,7.5,8,8.5,9,9.5,10,10.5,11,11.5,12,12.5,13,13.5,14,14.5,15,15.5,16,16.5,17,17.5,18,18.5,19,19.5,20,20.5,21,21.5,22,22.5,23,23.5,24,24.5,25,25.5,26,26.5,27,27.5,28,28.5,29,29.5,30,30.5,31,31.5,32,32.5,33,33.5,34], "labelExpr": "datum.value % 2 == 0 ? (datum.value % 24) + ':00' : ''", "labelOverlap": false, "labelBound": false, "labelFlush": false, "title": null}}},
    "layer": [
     {"data": {"name": "eB"}, "mark": {"type": "rule", "color": "#a6a6a6", "strokeWidth": 1.2},
      "encoding": {"y": {"field": "lo", "type": "quantitative", "scale": {"domain": [0, 16], "nice": false}, "axis": {"values": [0,2,4,6,8,10,12,14,16], "tickCount": 30, "format": "d", "labelOverlap": false, "title": ["F₁ Hybrid", "Mean Velocity (cm/s)"], "titlePadding": 4}}, "y2": {"field": "hi"}}},
     {"data": {"name": "eB"}, "mark": {"type": "tick", "orient": "horizontal", "color": "#a6a6a6", "size": 8, "thickness": 1.2},
      "encoding": {"y": {"field": "lo", "type": "quantitative"}}},
     {"data": {"name": "eB"}, "mark": {"type": "tick", "orient": "horizontal", "color": "#a6a6a6", "size": 8, "thickness": 1.2},
      "encoding": {"y": {"field": "hi", "type": "quantitative"}}},
     {"data": {"name": "vB"}, "mark": {"type": "line", "color": "#ff3300", "strokeWidth": 6, "strokeCap": "round", "strokeJoin": "round"},
      "encoding": {"y": {"field": "v", "type": "quantitative"}}}
    ]},
   {"width": 441, "height": 166, "data": {"name": "tE"},
    "encoding": {"x": {"field": "t", "type": "quantitative", "scale": {"domain": [6, 34], "nice": false, "zero": false}, "axis": {"values": [6,6.5,7,7.5,8,8.5,9,9.5,10,10.5,11,11.5,12,12.5,13,13.5,14,14.5,15,15.5,16,16.5,17,17.5,18,18.5,19,19.5,20,20.5,21,21.5,22,22.5,23,23.5,24,24.5,25,25.5,26,26.5,27,27.5,28,28.5,29,29.5,30,30.5,31,31.5,32,32.5,33,33.5,34], "labelExpr": "datum.value % 2 == 0 ? (datum.value % 24) + ':00' : ''", "labelOverlap": false, "labelBound": false, "labelFlush": false, "title": null}}},
    "layer": [
     {"mark": {"type": "area", "interpolate": "step-after", "color": "#abc470"},
      "encoding": {"y": {"datum": 900, "type": "quantitative", "stack": null, "scale": {"domain": [0, 900], "nice": false}, "axis": {"values": [0,100,200,300,400,500,600,700,800,900], "tickCount": 30, "format": "d", "labelOverlap": false, "title": ["F₁ Hybrid", "Time in Zone (s)"], "titlePadding": 4}}}},
     {"mark": {"type": "area", "interpolate": "step-after", "color": "#cc6660"},
      "encoding": {"y": {"field": "m", "type": "quantitative", "stack": null}}},
     {"mark": {"type": "area", "interpolate": "step-after", "color": "#6395c8"},
      "encoding": {"y": {"field": "b", "type": "quantitative", "stack": null}}}
    ]},
   {"width": 441, "height": 69, "data": {"name": "ld"},
    "mark": {"type": "rect", "stroke": "#2b2b2b", "strokeWidth": 1.2},
    "encoding": {
     "x": {"field": "s", "type": "quantitative", "scale": {"domain": [6, 34], "nice": false, "zero": false}, "axis": null},
     "x2": {"field": "e"},
     "y": {"datum": 0, "type": "quantitative", "scale": {"domain": [0, 5.3077], "nice": false}, "axis": {"domain": false, "ticks": false, "labels": false, "grid": false, "title": "C", "titleAngle": 0, "titleX": -62, "titleY": 43, "titleAlign": "left", "titleBaseline": "alphabetic", "titleFontSize": 26}},
     "y2": {"datum": 1},
     "color": {"field": "p", "type": "nominal", "scale": {"domain": ["light", "dark"], "range": ["#ffff00", "#000000"]}, "legend": null}}},
   {"width": 441, "height": 69, "data": {"name": "ld"},
    "mark": {"type": "rect", "stroke": "#2b2b2b", "strokeWidth": 1.2},
    "encoding": {
     "x": {"field": "s", "type": "quantitative", "scale": {"domain": [6, 34], "nice": false, "zero": false}, "axis": null},
     "x2": {"field": "e"},
     "y": {"datum": 0, "type": "quantitative", "scale": {"domain": [0, 5.3077], "nice": false}, "axis": {"domain": false, "ticks": false, "labels": false, "grid": false, "title": "F", "titleAngle": 0, "titleX": -64, "titleY": 43, "titleAlign": "left", "titleBaseline": "alphabetic", "titleFontSize": 26}},
     "y2": {"datum": 1},
     "color": {"field": "p", "type": "nominal", "scale": {"domain": ["light", "dark"], "range": ["#ffff00", "#000000"]}, "legend": null}}},
   {"width": 441, "height": 155,
    "encoding": {"x": {"field": "t", "type": "quantitative", "scale": {"domain": [6, 34], "nice": false, "zero": false}, "axis": {"values": [6,6.5,7,7.5,8,8.5,9,9.5,10,10.5,11,11.5,12,12.5,13,13.5,14,14.5,15,15.5,16,16.5,17,17.5,18,18.5,19,19.5,20,20.5,21,21.5,22,22.5,23,23.5,24,24.5,25,25.5,26,26.5,27,27.5,28,28.5,29,29.5,30,30.5,31,31.5,32,32.5,33,33.5,34], "labelExpr": "datum.value % 2 == 0 ? (datum.value % 24) + ':00' : ''", "labelOverlap": false, "labelBound": false, "labelFlush": false, "title": "Zeitgeber Time", "titlePadding": 14}}},
    "layer": [
     {"data": {"name": "eC"}, "mark": {"type": "rule", "color": "#a6a6a6", "strokeWidth": 1.2},
      "encoding": {"y": {"field": "lo", "type": "quantitative", "scale": {"domain": [0, 16], "nice": false}, "axis": {"values": [0,2,4,6,8,10,12,14,16], "tickCount": 30, "format": "d", "labelOverlap": false, "title": ["Cave", "Mean Velocity (cm/s)"], "titlePadding": 4}}, "y2": {"field": "hi"}}},
     {"data": {"name": "eC"}, "mark": {"type": "tick", "orient": "horizontal", "color": "#a6a6a6", "size": 8, "thickness": 1.2},
      "encoding": {"y": {"field": "lo", "type": "quantitative"}}},
     {"data": {"name": "eC"}, "mark": {"type": "tick", "orient": "horizontal", "color": "#a6a6a6", "size": 8, "thickness": 1.2},
      "encoding": {"y": {"field": "hi", "type": "quantitative"}}},
     {"data": {"name": "vC"}, "mark": {"type": "line", "color": "#ff3300", "strokeWidth": 6, "strokeCap": "round", "strokeJoin": "round"},
      "encoding": {"y": {"field": "v", "type": "quantitative"}}}
    ]},
   {"width": 441, "height": 161, "data": {"name": "tF"},
    "encoding": {"x": {"field": "t", "type": "quantitative", "scale": {"domain": [6, 34], "nice": false, "zero": false}, "axis": {"values": [6,6.5,7,7.5,8,8.5,9,9.5,10,10.5,11,11.5,12,12.5,13,13.5,14,14.5,15,15.5,16,16.5,17,17.5,18,18.5,19,19.5,20,20.5,21,21.5,22,22.5,23,23.5,24,24.5,25,25.5,26,26.5,27,27.5,28,28.5,29,29.5,30,30.5,31,31.5,32,32.5,33,33.5,34], "labelExpr": "datum.value % 2 == 0 ? (datum.value % 24) + ':00' : ''", "labelOverlap": false, "labelBound": false, "labelFlush": false, "title": "Zeitgeber Time", "titlePadding": 8}}},
    "layer": [
     {"mark": {"type": "area", "interpolate": "step-after", "color": "#abc470"},
      "encoding": {"y": {"datum": 900, "type": "quantitative", "stack": null, "scale": {"domain": [0, 900], "nice": false}, "axis": {"values": [0,100,200,300,400,500,600,700,800,900], "tickCount": 30, "format": "d", "labelOverlap": false, "title": ["Cave", "Time in Zone (s)"], "titlePadding": 4}}}},
     {"mark": {"type": "area", "interpolate": "step-after", "color": "#cc6660"},
      "encoding": {"y": {"field": "m", "type": "quantitative", "stack": null}}},
     {"mark": {"type": "area", "interpolate": "step-after", "color": "#6395c8"},
      "encoding": {"y": {"field": "b", "type": "quantitative", "stack": null}}}
    ]}
],
"config": {
 "view": {"stroke": null},
 "font": "Liberation Sans",
 "axis": {"domainColor": "#8c8c8c", "tickColor": "#8c8c8c", "labelColor": "#262626", "labelFont": "Lato", "labelFontSize": 12, "labelOverlap": false, "titleFont": "Liberation Sans", "titleFontWeight": "normal", "titleFontSize": 17, "titleColor": "#000000", "titleLineHeight": 21, "grid": false, "tickSize": 5},
 "axisX": {"labelAngle": -90, "labelFontSize": 11.5},
 "title": {"font": "Liberation Sans", "fontWeight": "normal", "color": "#000000"}
}
}
